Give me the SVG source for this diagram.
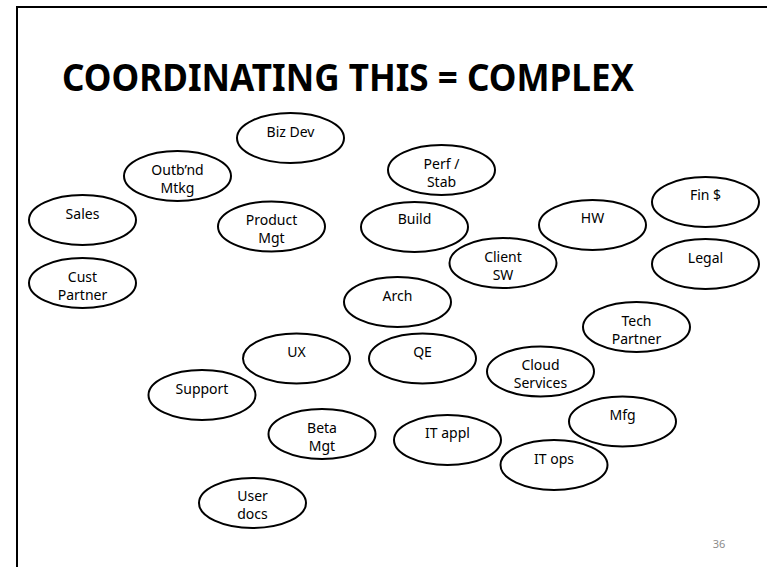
<svg xmlns="http://www.w3.org/2000/svg" width="767" height="567" viewBox="0 0 767 567">
<style>
.n ellipse{fill:#fff;stroke:#000;stroke-width:2}
.n text{font-family:"Noto Sans","Open Sans",sans-serif;font-size:14px;fill:#000;text-anchor:middle}
.title{font-family:"Noto Sans","Open Sans",sans-serif;font-weight:bold;font-size:37px;fill:#000}
.pg{font-family:"Noto Sans","Open Sans",sans-serif;font-size:11px;fill:#8c8c8c;text-anchor:middle}
</style>
<rect width="767" height="567" fill="#fff"/>
<path d="M17,567 V7 H767" fill="none" stroke="#000" stroke-width="2"/>
<text class="title" x="62" y="91" textLength="572" lengthAdjust="spacingAndGlyphs">COORDINATING THIS = COMPLEX</text>
<g id="connectors"></g>
<g id="bizdev" class="n"><ellipse cx="290.5" cy="138" rx="53.5" ry="25"/><text x="290.5" y="137">Biz Dev</text></g>
<g id="outbnd" class="n"><ellipse cx="177.5" cy="176" rx="53.5" ry="25"/><text x="177.5" y="175">Outb’nd</text><text x="177.5" y="193">Mtkg</text></g>
<g id="sales" class="n"><ellipse cx="82.5" cy="220" rx="53.5" ry="25"/><text x="82.5" y="219">Sales</text></g>
<g id="custpartner" class="n"><ellipse cx="82.5" cy="283" rx="53.5" ry="25"/><text x="82.5" y="282">Cust</text><text x="82.5" y="300">Partner</text></g>
<g id="productmgt" class="n"><ellipse cx="271.5" cy="226.5" rx="53.5" ry="25"/><text x="271.5" y="225">Product</text><text x="271.5" y="243">Mgt</text></g>
<g id="perfstab" class="n"><ellipse cx="441.5" cy="170" rx="53.5" ry="25"/><text x="441.5" y="168.5">Perf /</text><text x="441.5" y="186.5">Stab</text></g>
<g id="build" class="n"><ellipse cx="414.5" cy="227" rx="53.5" ry="25"/><text x="414.5" y="224">Build</text></g>
<g id="clientsw" class="n"><ellipse cx="503" cy="263" rx="53.5" ry="25"/><text x="503" y="261.5">Client</text><text x="503" y="279.5">SW</text></g>
<g id="hw" class="n"><ellipse cx="592.5" cy="225" rx="53.5" ry="25"/><text x="592.5" y="223">HW</text></g>
<g id="fin" class="n"><ellipse cx="705.5" cy="202" rx="53.5" ry="25"/><text x="705.5" y="200">Fin $</text></g>
<g id="legal" class="n"><ellipse cx="705.5" cy="264" rx="53.5" ry="25"/><text x="705.5" y="262.5">Legal</text></g>
<g id="arch" class="n"><ellipse cx="397.5" cy="302" rx="53.5" ry="25"/><text x="397.5" y="301">Arch</text></g>
<g id="techpartner" class="n"><ellipse cx="636.5" cy="327" rx="53.5" ry="25"/><text x="636.5" y="325.5">Tech</text><text x="636.5" y="343.5">Partner</text></g>
<g id="ux" class="n"><ellipse cx="296.5" cy="358.5" rx="53.5" ry="25"/><text x="296.5" y="357">UX</text></g>
<g id="qe" class="n"><ellipse cx="422.5" cy="358.5" rx="53.5" ry="25"/><text x="422.5" y="357">QE</text></g>
<g id="cloud" class="n"><ellipse cx="540.5" cy="371.5" rx="53.5" ry="25"/><text x="540.5" y="369.5">Cloud</text><text x="540.5" y="387.5">Services</text></g>
<g id="support" class="n"><ellipse cx="202" cy="395" rx="53.5" ry="25"/><text x="202" y="393.5">Support</text></g>
<g id="mfg" class="n"><ellipse cx="622.5" cy="421.5" rx="53.5" ry="25"/><text x="622.5" y="420">Mfg</text></g>
<g id="betamgt" class="n"><ellipse cx="322" cy="434" rx="53.5" ry="25"/><text x="322" y="432.5">Beta</text><text x="322" y="450.5">Mgt</text></g>
<g id="itappl" class="n"><ellipse cx="447.5" cy="440" rx="53.5" ry="25"/><text x="447.5" y="437.5">IT appl</text></g>
<g id="itops" class="n"><ellipse cx="554" cy="465" rx="53.5" ry="25"/><text x="554" y="463.5">IT ops</text></g>
<g id="userdocs" class="n"><ellipse cx="252.5" cy="503" rx="53.5" ry="25"/><text x="252.5" y="500.5">User</text><text x="252.5" y="518.5">docs</text></g>
<text class="pg" x="719" y="548">36</text>
</svg>
